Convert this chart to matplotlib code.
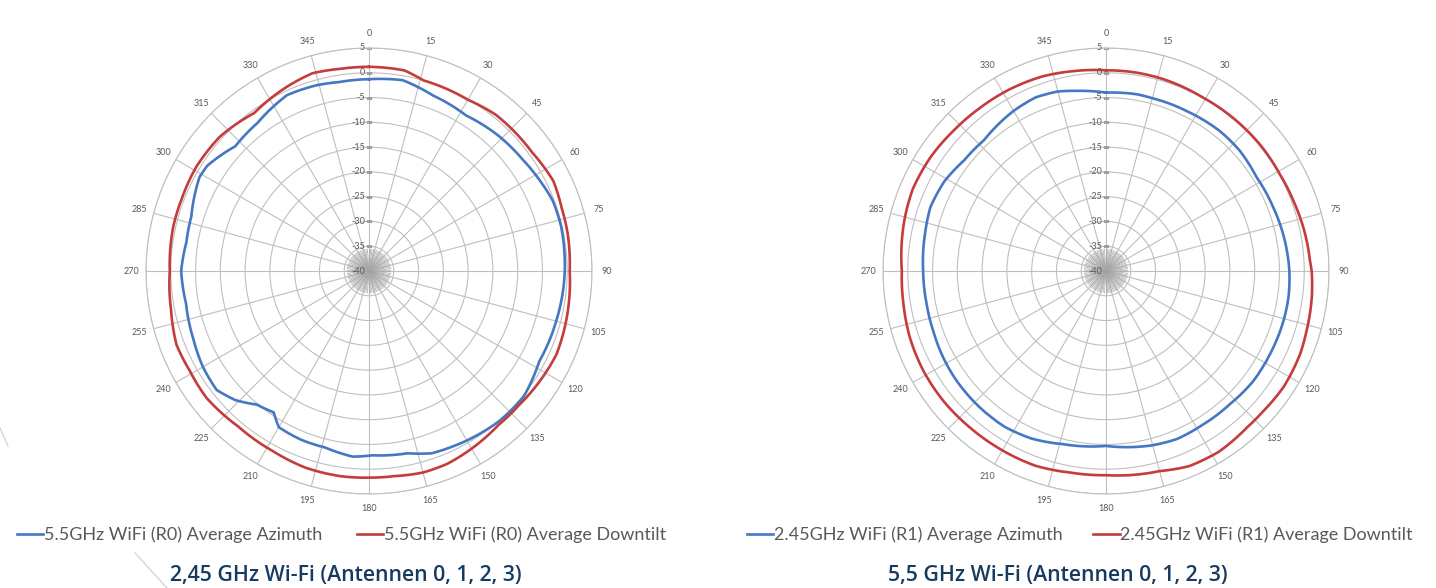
import numpy as np
import matplotlib.pyplot as plt
from matplotlib.lines import Line2D

# ---- data (angle in deg, gain in dB) ----
# left chart: 5.5GHz WiFi (R0)
az_r0_ang = [0, 10, 20, 32, 44, 54, 62, 69, 77, 85, 90, 96, 105, 118, 129, 139, 148, 155, 161,
             168, 179, 185, 194, 202, 210, 214, 220, 226, 232, 240, 249, 260, 270, 279, 287,
             299, 303, 313, 323, 335, 344, 351]
az_r0_db = [-1.3, -0.9, -2.3, -3.0, -2.2, -1.7, -1.0, -0.3, -0.2, -0.4, -0.5, -0.65, -0.9, -1.1,
            0.2, 0.1, -0.4, -0.8, -1.1, -2.4, -2.8, -2.4, -3.3, -3.3, -3.6, -5.6, -4.8, -2.5,
            -1.0, -1.3, -2.0, -2.5, -2.1, -2.7, -2.5, -0.9, -1.05, -3.1, -2.6, -0.85, -1.05, -1.4]
dt_r0_ang = [0, 10, 16, 30, 39, 54, 64, 72, 79, 90, 98, 106, 114, 123, 132, 140, 150, 158, 165,
             173, 180, 188, 198, 208, 220, 232, 241, 249, 259, 270, 283, 291, 301, 312, 324,
             336, 344, 352]
dt_r0_db = [1.2, 1.1, 0.0, -0.1, 0.6, 0.7, 1.4, 0.9, 0.8, 0.5, 0.8, 1.1, 1.4, 1.0, 0.6, 0.6,
            1.4, 2.0, 2.1, 1.7, 1.7, 1.8, 1.7, 1.2, 1.0, 1.6, 1.4, 1.6, 0.7, 0.2, 0.5, 0.5,
            0.7, 0.5, -0.6, 0.7, 1.5, 1.2]

# right chart: 2.45GHz WiFi (R1)
az_r1_ang = [0, 10, 15, 27, 39, 48, 58, 69, 78, 90, 98, 106, 117, 127, 137, 148, 157, 165, 180,
             194, 204, 213, 223, 234, 242, 251, 260, 270, 282, 290, 299, 308, 317, 330, 338,
             345, 351]
az_r1_db = [-4.0, -3.8, -3.9, -3.85, -3.6, -3.7, -4.2, -3.9, -3.5, -3.0, -2.8, -2.8, -2.9, -2.9,
            -3.3, -3.35, -3.2, -3.6, -4.7, -4.0, -3.0, -2.5, -2.5, -2.6, -2.8, -3.1, -3.2,
            -3.1, -2.7, -2.3, -2.7, -3.7, -3.9, -2.7, -2.2, -2.5, -3.2]
dt_r1_ang = [0, 9, 17, 29, 41, 51, 61, 70, 78, 87, 90, 97, 107, 113, 123, 132, 138, 148, 157,
             165, 180, 190, 200, 210, 221, 231, 241, 251, 261, 270, 285, 293, 303, 313, 322,
             332, 342, 350]
dt_r1_db = [0.5, 0.5, 0.4, 0.1, 0.15, 0.2, 0.15, 0.4, 0.8, 1.2, 1.5, 1.85, 2.25, 2.6, 2.8, 2.5,
            2.5, 3.0, 2.8, 1.8, 1.2, 1.3, 1.8, 1.8, 1.85, 2.0, 2.0, 1.8, 1.4, 1.2, 2.0, 2.35,
            2.2, 1.8, 1.6, 1.5, 1.3, 0.9]

r_ticks = [5, 0, -5, -10, -15, -20, -25, -30, -35, -40]
theta_ticks = list(range(0, 360, 15))

BLUE = '#4577c2'
RED = '#c43c3c'
GRID = '#bfbfbf'
TXT = '#595959'
NAVY = '#173b60'

plt.rcParams['font.family'] = ['Lato', 'DejaVu Sans']

W, H = 1436, 588
fig = plt.figure(figsize=(W / 100, H / 100), dpi=100)


def closed(ang, val):
    a = np.deg2rad(np.array(ang + [ang[0] + 360]))
    v = np.array(val + [val[0]])
    return a, v


def radar(cx, az, dt, names, leg_x, colsp):
    R = 223
    ax = fig.add_axes([(cx - R) / W, (H - 271 - R) / H, 2 * R / W, 2 * R / H],
                      projection='polar')
    ax.set_theta_zero_location('N')
    ax.set_theta_direction(-1)
    ax.set_ylim(-40, 5)
    ax.set_yticks(r_ticks[:-1])
    ax.set_yticklabels([])
    ax.set_xticks(np.deg2rad(theta_ticks))
    ax.set_xticklabels([str(t) for t in theta_ticks])
    ax.tick_params(axis='x', pad=0, labelsize=6.5, labelcolor=TXT)
    ax.grid(True, color=GRID, lw=0.8)
    ax.spines['polar'].set_color(GRID)
    ax.spines['polar'].set_linewidth(0.8)

    # dense spokes near the centre
    fine = np.deg2rad(np.arange(0, 360, 4))
    ax.vlines(fine, -40, -35.5, color='#a8a8a8', lw=0.5)

    # radial value labels along the 0 deg spoke
    ax.plot(np.zeros(len(r_ticks)), r_ticks, ls='none', marker='_', ms=5,
            color='#a0a0a0', mew=0.8)
    for r in r_ticks:
        ax.annotate(str(r), xy=(0, r), xytext=(-3, 0), textcoords='offset points',
                    ha='right', va='center', fontsize=6.5, color=TXT)

    for (ang, val), col, name in [(az, BLUE, names[0]), (dt, RED, names[1])]:
        a, v = closed(ang, val)
        ln, = ax.plot(a, v, color=col, lw=1.9, label=name)
        ln._path._interpolation_steps = 16
        ln.set_data(a, v)

    ax.legend(loc='center left', bbox_to_anchor=(leg_x / W, 1 - 535 / H),
              bbox_transform=fig.transFigure, ncol=2, frameon=False,
              fontsize=13, handlelength=1.45, handletextpad=0.05,
              columnspacing=colsp, borderpad=0, borderaxespad=0,
              labelcolor=TXT)
    return ax


radar(369, (az_r0_ang, az_r0_db), (dt_r0_ang, dt_r0_db),
      ['5.5GHz WiFi (R0) Average Azimuth', '5.5GHz WiFi (R0) Average Downtilt'], 17, 1.9)
radar(1106, (az_r1_ang, az_r1_db), (dt_r1_ang, dt_r1_db),
      ['2.45GHz WiFi (R1) Average Azimuth', '2.45GHz WiFi (R1) Average Downtilt'], 747, 1.7)

fig.text(346 / W, 1 - 575 / H, '2,45 GHz Wi-Fi (Antennen 0, 1, 2, 3)', ha='center',
         va='center', fontsize=15.3, color=NAVY, fontweight='semibold', family='Open Sans')
fig.text(1058 / W, 1 - 575 / H, '5,5 GHz Wi-Fi (Antennen 0, 1, 2, 3)', ha='center',
         va='center', fontsize=15.3, color=NAVY, fontweight='semibold', family='Open Sans')

# faint decorative strokes from the page background
fig.add_artist(Line2D([135 / W, 167 / W], [1 - 553 / H, 0], color='#d6d6d6', lw=1))
fig.add_artist(Line2D([0, 8 / W], [1 - 428 / H, 1 - 446 / H], color='#d6d6d6', lw=1))

fig.savefig('out.png', dpi=100)
